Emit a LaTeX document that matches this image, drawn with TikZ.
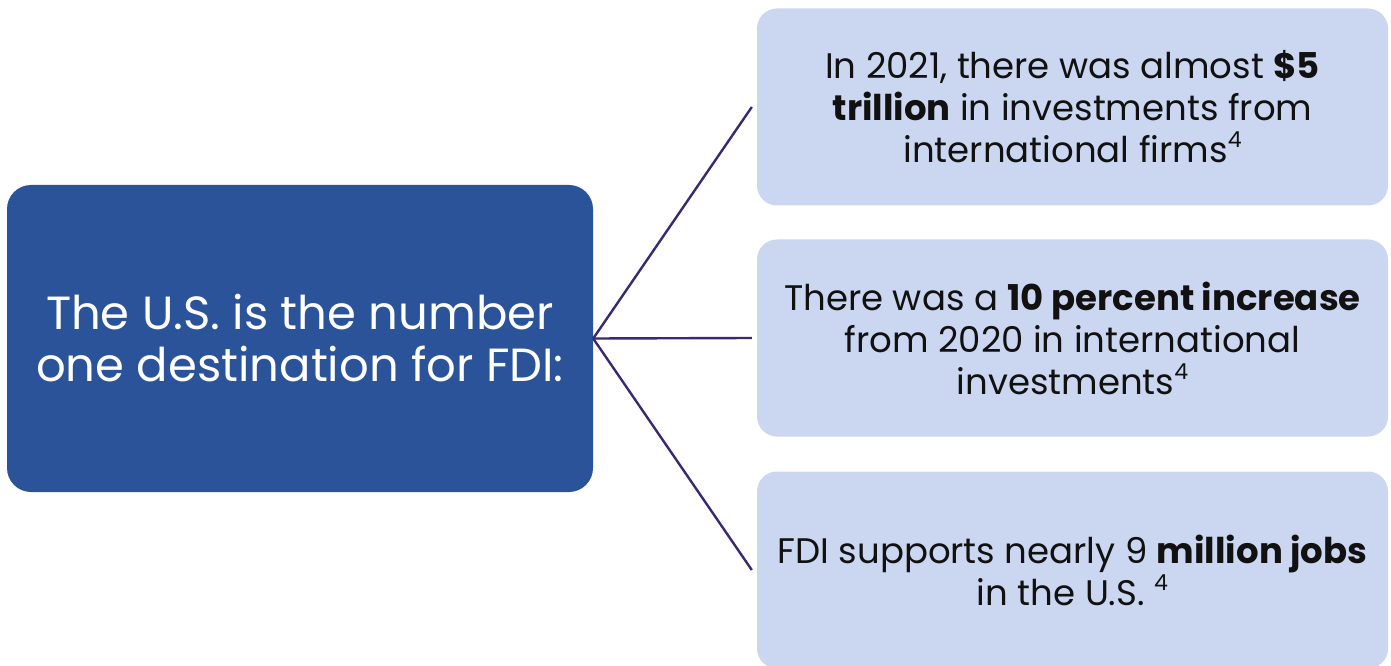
\documentclass[tikz,border=0pt]{standalone}
\usepackage{fontspec}
\setmainfont{Poppins}
\definecolor{mainblue}{HTML}{2A539A}
\definecolor{factfill}{HTML}{CBD6F0}
\definecolor{linkline}{HTML}{3A2870}
\definecolor{facttext}{HTML}{111111}
\newcommand{\refmark}[1]{\raisebox{0.42em}{\fontsize{22}{22}\selectfont #1}}
\begin{document}
\begin{tikzpicture}[x=1pt,y=1pt,
  hub/.style={rectangle, rounded corners=24pt, fill=mainblue, text=white,
    minimum width=586pt, minimum height=307pt, inner sep=0pt, align=center,
    font=\fontsize{46.5}{52}\selectfont},
  fact/.style={rectangle, rounded corners=20pt, fill=factfill, text=facttext,
    minimum width=631pt, minimum height=197pt, inner sep=0pt, align=center,
    font=\fontsize{35.5}{42}\selectfont},
  link/.style={draw=linkline, line width=2.4pt}]
\useasboundingbox (0,0) rectangle (1391,665);
\clip (0,0) rectangle (1391,665);

% central statement
\node[hub] (main) at (300,326.5)
  {The U.S. is the number\\one destination for FDI:};

% supporting facts
\node[fact] (f1) at (1072.5,558)
  {In 2021, there was almost \textbf{\$5}\\\textbf{trillion} in investments from\\international firms\refmark{4}};
\node[fact] (f2) at (1072.5,327)
  {There was a \textbf{10 percent increase}\\from 2020 in international\\investments\refmark{4}};
\node[fact] (f3) at (1072.5,95)
  {FDI supports nearly 9 \textbf{million jobs}\\in the U.S. \refmark{4}};

% connectors
\coordinate (e1) at ([xshift=-5pt]f1.west);
\coordinate (e2) at ([xshift=-5pt]f2.west);
\coordinate (e3) at ([xshift=-5pt]f3.west);
\draw[link] (main.east) -- (e1);
\draw[link] (main.east) -- (e2);
\draw[link] (main.east) -- (e3);
\end{tikzpicture}
\end{document}
